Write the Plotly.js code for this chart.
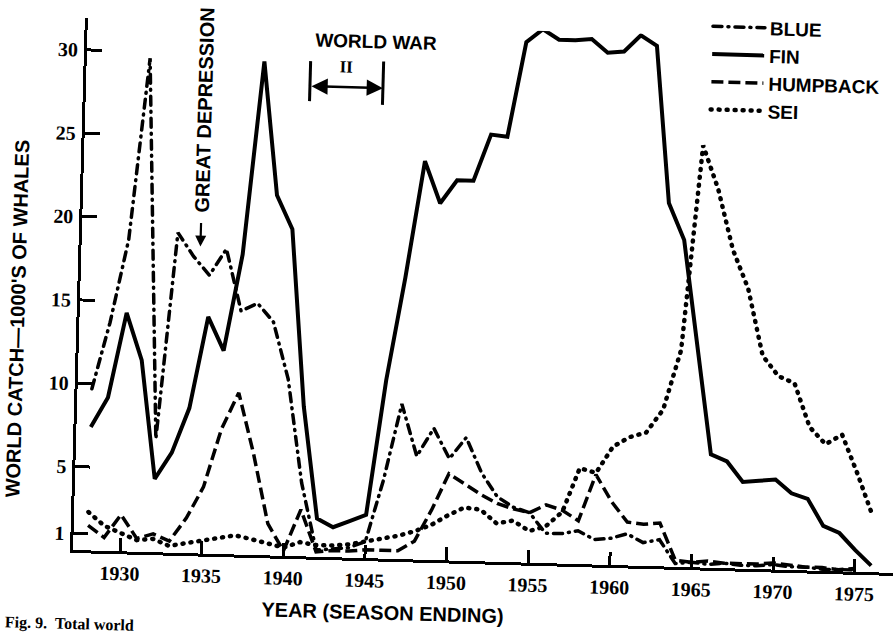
<!DOCTYPE html>
<html><head><meta charset="utf-8">
<script src="https://cdn.plot.ly/plotly-3.0.1.min.js"></script>
<style>
html,body{margin:0;padding:0;background:#fff;overflow:hidden;width:896px;height:632px;}
#chart{position:absolute;left:0;top:-30px;width:896px;height:680px;transform-origin:73px 580px;transform:rotate(1.6deg);}
</style></head><body><div id="chart"></div>
<script>
// Season-ending years
const years = [1928,1929,1930,1931,1932,1933,1934,1935,1936,1937,1938,1939,1940,1941,1942,1943,1944,1945,1946,1947,1948,1949,1950,1951,1952,1953,1954,1955,1956,1957,1958,1959,1960,1961,1962,1963,1964,1965,1966,1967,1968,1969,1970,1971,1972,1973,1974,1975,1976];
// World catch, thousands of whales
const blue = [9.7,13.7,18.7,29.6,6.8,19.2,17.8,16.7,18.3,14.6,15.1,14.0,10.6,4.4,0.4,0.5,0.6,1.0,4.7,9.3,6.2,7.9,6.1,7.4,5.3,3.9,3.3,3.0,1.8,1.8,2.0,1.5,1.6,1.9,1.4,1.6,0.2,0.3,0.2,0.3,0.2,0.2,0.3,0.2,0.2,0.1,0.1,0.1];
const fin = [7.4,9.2,14.3,11.5,4.4,6.0,8.7,14.2,12.2,18.0,29.6,21.6,19.6,9.0,2.3,1.8,2.2,2.6,10.7,16.9,23.9,21.4,22.8,22.8,25.6,25.5,31.2,32.0,31.4,31.4,31.5,30.7,30.8,31.8,31.2,21.8,19.6,13.2,6.8,6.4,5.2,5.3,5.4,4.6,4.3,2.7,2.3,1.3,0.4];
const humpback = [1.5,0.8,2.2,0.8,1.1,0.7,2.1,4.0,7.5,9.7,6.1,1.9,0.3,2.8,0.3,0.4,0.4,0.5,0.5,0.5,1.1,3.0,5.2,4.6,4.0,3.5,3.2,3.0,3.5,3.2,2.6,5.4,3.8,2.6,2.5,2.6,0.4,0.3,0.4,0.3,0.3,0.3,0.4,0.3,0.2,0.2,0.1,0.2];
const sei = [2.3,1.5,1.1,0.7,0.8,0.4,0.6,0.8,1.0,1.15,0.95,0.75,0.5,0.85,0.7,0.7,0.8,1.0,1.2,1.4,1.7,2.1,2.7,3.2,3.1,2.3,2.5,1.9,2.2,3.1,5.75,5.5,7.1,7.7,8.0,9.4,13.0,25.3,22.7,19.1,16.8,12.8,11.6,11.2,8.6,7.6,8.2,5.9,3.4];
const seriesNames = ['BLUE','FIN','HUMPBACK','SEI'];
const xTicks = [1930,1935,1940,1945,1950,1955,1960,1965,1970,1975];
const yTicks = [1,5,10,15,20,25,30];
const yTickText = ['1','5','10','15','20','25','30'];

const SANS = 'Liberation Sans, Arial, sans-serif';
const SERIF = 'Liberation Serif, Times New Roman, serif';

const traces = [
  {x: years.slice(0, blue.length), y: blue, name: seriesNames[0], mode:'lines',
   line:{color:'#000', width:3.5, dash:'9px,6px,1px,6px'}, cliponaxis:false},
  {x: years.slice(0, fin.length), y: fin, name: seriesNames[1], mode:'lines',
   line:{color:'#000', width:4}, cliponaxis:false},
  {x: years.slice(0, humpback.length), y: humpback, name: seriesNames[2], mode:'lines',
   line:{color:'#000', width:3.5, dash:'12px,5px'}, cliponaxis:false},
  {x: years.slice(0, sei.length), y: sei, name: seriesNames[3], mode:'lines',
   line:{color:'#000', width:4.5, dash:'1px,7px'}, cliponaxis:false}
];

const layout = {
  width: 896, height: 680,
  margin: {l:73, r:3, t:48, b:100, autoexpand:false},
  paper_bgcolor:'#fff', plot_bgcolor:'#fff',
  showlegend: true,
  legend: {x:0.7562, xanchor:'left', y:1.053, yanchor:'top', itemwidth:52,
           font:{family:SANS, size:19, color:'#000', weight:'bold'},
           bgcolor:'rgba(0,0,0,0)', tracegroupgap:0},
  xaxis: {range:[1927.12,1977.33], tickvals:xTicks, ticktext:xTicks.map(String),
          ticks:'inside', ticklen:13, tickwidth:3, tickcolor:'#000',
          showline:true, linewidth:3, linecolor:'#000', showgrid:false, zeroline:false,
          tickfont:{family:SERIF, size:20, color:'#000', weight:'bold'}, ticklabelstandoff:2},
  yaxis: {range:[0,31.9], tickvals:yTicks, ticktext:yTickText,
          ticks:'inside', ticklen:15, tickwidth:3, tickcolor:'#000',
          showline:true, linewidth:3, linecolor:'#000', showgrid:false, zeroline:false,
          tickfont:{family:SERIF, size:20, color:'#000', weight:'bold'}, ticklabelstandoff:2},
  shapes: [
    {type:'line', xref:'x', yref:'y', x0:1940.83, x1:1940.83, y0:27.3, y1:29.7, line:{color:'#000', width:3}},
    {type:'line', xref:'x', yref:'y', x0:1945.3, x1:1945.3, y0:27.2, y1:29.8, line:{color:'#000', width:3}}
  ],
  annotations: [
    {xref:'paper', yref:'paper', x:0.379, y:-0.1021, text:'YEAR (SEASON ENDING)', showarrow:false,
     font:{family:SANS, size:20, color:'#000', weight:'bold'}, xanchor:'center', yanchor:'middle'},
    {xref:'paper', yref:'paper', x:-0.0762, y:0.4312, text:"WORLD CATCH\u20141000'S OF WHALES", showarrow:false,
     textangle:-90, font:{family:SANS, size:20, color:'#000', weight:'bold'}, xanchor:'center', yanchor:'middle'},
    {xref:'paper', yref:'paper', x:-0.0827, y:-0.1400, text:'Fig. 9.  Total world', showarrow:false,
     font:{family:SERIF, size:16, color:'#000', weight:'bold'}, xanchor:'left', yanchor:'middle'},
    {xref:'x', yref:'y', x:1944.8, y:31.0, text:'WORLD WAR', showarrow:false,
     font:{family:SANS, size:19, color:'#000', weight:'bold'}},
    {xref:'x', yref:'y', x:1943.07, y:29.4, text:'II', showarrow:false,
     font:{family:SERIF, size:17, color:'#000', weight:'bold'}},
    {xref:'x', yref:'y', x:1945.3, y:28.2, axref:'x', ayref:'y', ax:1940.83, ay:28.2, text:'',
     showarrow:true, arrowhead:2, arrowside:'end+start', arrowsize:1.3, arrowwidth:2.5, arrowcolor:'#000',
     standoff:0, startstandoff:0},
    {xref:'x', yref:'y', x:1934.45, y:26.6, text:'GREAT DEPRESSION', showarrow:false, textangle:-90,
     font:{family:SANS, size:20, color:'#000', weight:'bold'}},
    {xref:'x', yref:'y', x:1934.4, y:18.4, axref:'x', ayref:'y', ax:1934.4, ay:19.9, text:'',
     showarrow:true, arrowhead:2, arrowsize:1, arrowwidth:2.2, arrowcolor:'#000', standoff:0}
  ]
};

Plotly.newPlot('chart', traces, layout, {staticPlot:true, displayModeBar:false}).then(function(){
  const roundIdx = [0, 3];
  const tr = document.querySelectorAll('#chart .scatterlayer .trace');
  roundIdx.forEach(function(i){
    if (tr[i]) tr[i].querySelectorAll('path.js-line').forEach(function(p){ p.style.strokeLinecap = 'round'; });
  });
  const lg = document.querySelectorAll('#chart .legend .traces');
  roundIdx.forEach(function(i){
    if (lg[i]) lg[i].querySelectorAll('path').forEach(function(p){ p.style.strokeLinecap = 'round'; });
  });
});
</script></body></html>
